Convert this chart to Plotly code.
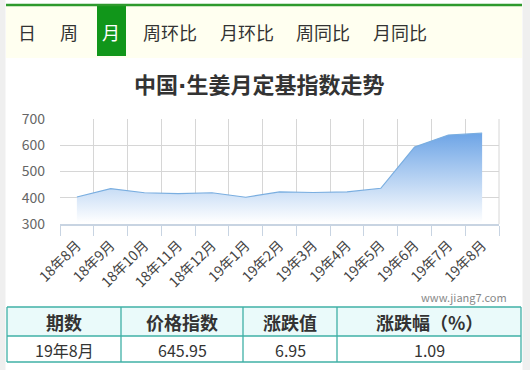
import plotly.graph_objects as go

months = ["18年8月", "18年9月", "18年10月", "18年11月", "18年12月", "19年1月", "19年2月",
          "19年3月", "19年4月", "19年5月", "19年6月", "19年7月", "19年8月"]
index_values = [403, 435, 419, 416, 419, 402, 422, 420, 422, 436, 593, 639, 645.95]
y_ticks = [300, 400, 500, 600, 700]
tabs = ["日", "周", "月", "周环比", "月环比", "周同比", "月同比"]
tab_x = [27, 69, 111, 170, 247, 323, 400]
selected_tab = "月"
table_header = ["期数", "价格指数", "涨跌值", "涨跌幅（%）"]
table_row = ["19年8月", "645.95", "6.95", "1.09"]
col_edges = [7, 121, 243, 337, 521]

FW, FH = 530, 370
L, R, T, B = 60, 499, 119, 224
W, H = R - L, B - T
FONT = "Noto Sans CJK SC"


def px(x):
    return (x - L) / W


def py(y):
    return 1 - (y - T) / H


fig = go.Figure()
fig.add_trace(go.Scatter(
    x=months, y=index_values, mode="lines",
    line=dict(color="#7aaee0", width=1.2),
    fill="tozeroy",
    fillgradient=dict(type="vertical", start=305, stop=700,
                      colorscale=[[0, "rgba(255,255,255,1)"], [1, "rgb(86,150,226)"]]),
    hoverinfo="skip",
))

shapes = []
annotations = []


def rect(x0, y0, x1, y1, fill=None, line_color=None, lw=0, layer="below"):
    shapes.append(dict(type="rect", xref="paper", yref="paper",
                       x0=px(x0), x1=px(x1), y0=py(y0), y1=py(y1),
                       fillcolor=fill if fill else "rgba(0,0,0,0)",
                       line=dict(color=line_color if line_color else "rgba(0,0,0,0)", width=lw),
                       layer=layer))


def line(x0, y0, x1, y1, color, lw):
    shapes.append(dict(type="line", xref="paper", yref="paper",
                       x0=px(x0), x1=px(x1), y0=py(y0), y1=py(y1),
                       line=dict(color=color, width=lw), layer="above"))


def text(x, y, s, size, color="#333", bold=False, xanchor="center"):
    annotations.append(dict(xref="paper", yref="paper", x=px(x), y=py(y),
                            text=f"<b>{s}</b>" if bold else s, showarrow=False,
                            xanchor=xanchor, yanchor="middle",
                            font=dict(family=FONT, size=size, color=color)))


# page side strips
rect(0, 0, 5.5, FH, fill="#efefef")
rect(522.5, 0, FW, FH, fill="#efefef")
# tab bar
rect(6, 6, 522, 58, fill="#fffff0")
line(6, 5, 522, 5, "#2e9a2e", 2.5)
for t, x in zip(tabs, tab_x):
    if t == selected_tab:
        rect(97, 6, 126, 56, fill="#11961a")
        text(x, 32, t, 18, color="#ffffff")
    else:
        text(x, 32, t, 18, color="#333333")

# title (narrow middle dot as in the reference)
title_text = '中国<span style="font-family:DejaVu Sans">·</span>生姜月定基指数走势'
text(259, 83, title_text, 22, color="#333333", bold=True)

# watermark
text(509, 297, "www.jiang7.com", 11, color="#888888", xanchor="right")

# table
rect(col_edges[0], 307, col_edges[-1], 336, fill="#eafafa", layer="below")
tc = "#3fb0a6"
for yy in [307, 336, 362]:
    line(col_edges[0], yy, col_edges[-1], yy, tc, 1.3)
for xx in col_edges:
    line(xx, 307, xx, 362, tc, 1.3)
for i in range(4):
    cx = (col_edges[i] + col_edges[i + 1]) / 2
    text(cx, 322, table_header[i], 18, color="#333333", bold=True)
    text(cx, 349.5, table_row[i], 16, color="#333333")

# plot border right
line(R, T, R, B, "#d6d6d6", 1)

fig.update_layout(
    width=FW, height=FH,
    margin=dict(l=L, r=FW - R, t=T, b=FH - B, pad=0),
    paper_bgcolor="#ffffff", plot_bgcolor="#ffffff",
    showlegend=False,
    shapes=shapes, annotations=annotations,
    xaxis=dict(
        type="category", range=[-0.5, len(months) - 0.5],
        tickson="boundaries", ticks="outside", ticklen=10, tickcolor="#c8d4e2",
        showgrid=True, gridcolor="#d6d6d6", gridwidth=1,
        showline=True, linecolor="#c8d4e2", linewidth=1.5,
        tickangle=-45, tickfont=dict(family=FONT, size=14, color="#444444"),
        ticklabelstandoff=6,
        fixedrange=True, zeroline=False,
    ),
    yaxis=dict(
        range=[300, 700], tickvals=y_ticks,
        showgrid=True, gridcolor="#d6d6d6", gridwidth=1,
        tickfont=dict(family=FONT, size=14, color="#666666"),
        ticklabelstandoff=14, zeroline=False, fixedrange=True,
    ),
)

fig.write_html("out.html")
